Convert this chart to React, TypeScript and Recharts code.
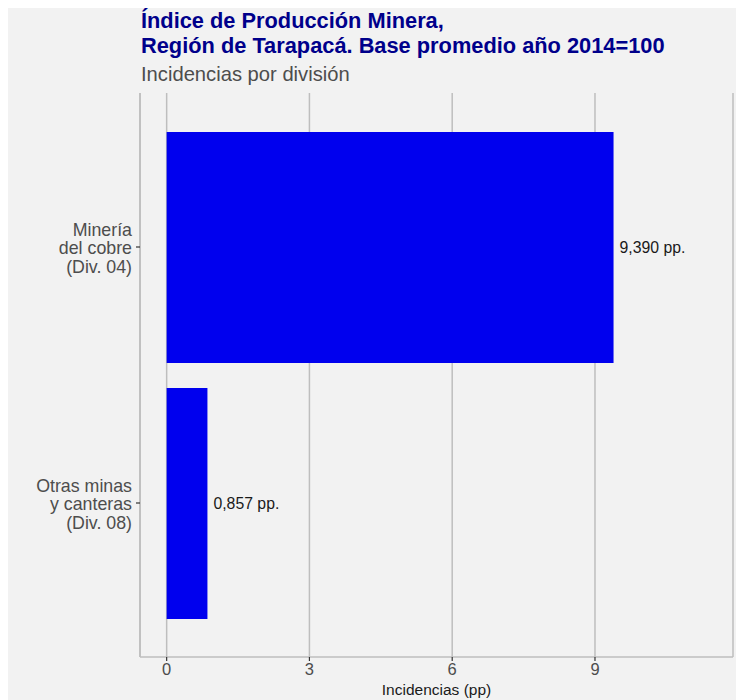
import React from 'react';
import { BarChart, Bar, XAxis, YAxis, CartesianGrid, LabelList } from 'recharts';

const categories = ['Minería\ndel cobre\n(Div. 04)', 'Otras minas\ny canteras\n(Div. 08)'];
const incidences = [9.39, 0.857];
const valueLabels = ['9,390 pp.', '0,857 pp.'];
const xTicks = [0, 3, 6, 9];

const data = categories.map((c, i) => ({ name: c, value: incidences[i], label: valueLabels[i] }));

const FONT = '"Liberation Sans", Arial, Helvetica, sans-serif';

const YTick = (props: any) => {
  const { x, y, payload } = props;
  const lines = String(payload.value).split('\n');
  const lh = 18.5;
  return (
    <text x={x} y={y} textAnchor="end" fill="#4D4D4D" fontSize={17.8} fontFamily={FONT}>
      {lines.map((l: string, i: number) => (
        <tspan key={i} x={x} y={y + 1 + (i - (lines.length - 1) / 2) * lh} dy="0.35em">
          {l}
        </tspan>
      ))}
    </text>
  );
};

const ValueLabel = (props: any) => {
  const { x, y, width, height, value } = props;
  return (
    <text
      x={x + width + 6}
      y={y + height / 2}
      dy="0.35em"
      textAnchor="start"
      fill="#1A1A1A"
      fontSize={15.8}
      fontFamily={FONT}
    >
      {value}
    </text>
  );
};

export default function App() {
  return (
    <div style={{ position: 'relative', width: 736, height: 692, background: '#F2F2F2', fontFamily: FONT }}>
      <div
        style={{
          position: 'absolute',
          left: 133,
          top: 0,
          color: '#00008B',
          fontWeight: 'bold',
          fontSize: 21.8,
          lineHeight: '25px',
          whiteSpace: 'nowrap',
        }}
      >
        Índice de Producción Minera,
        <br />
        Región de Tarapacá. Base promedio año 2014=100
      </div>
      <div
        style={{
          position: 'absolute',
          left: 133,
          top: 54,
          color: '#4D4D4D',
          fontSize: 20.2,
          lineHeight: '24px',
          whiteSpace: 'nowrap',
        }}
      >
        Incidencias por división
      </div>
      <BarChart
        width={736}
        height={692}
        data={data}
        layout="vertical"
        margin={{ top: 85, right: 11, bottom: 13, left: 0 }}
        style={{ position: 'absolute', left: 0, top: 0 }}
      >
        <CartesianGrid horizontal={false} stroke="#BEBEBE" strokeWidth={1.5} />
        <XAxis
          type="number"
          domain={[-0.56, 11.9]}
          ticks={xTicks}
          allowDataOverflow
          tickSize={4}
          tickMargin={2}
          axisLine={{ stroke: '#BEBEBE', strokeWidth: 1.5 }}
          tickLine={{ stroke: '#333333', strokeWidth: 1.2 }}
          tick={{ fill: '#4D4D4D', fontSize: 16.5, fontFamily: FONT }}
          height={30}
        />
        <YAxis
          type="category"
          dataKey="name"
          width={132}
          tickSize={4}
          tickMargin={4}
          padding={{ top: 26, bottom: 26 }}
          axisLine={{ stroke: '#BEBEBE', strokeWidth: 1.5 }}
          tickLine={{ stroke: '#333333', strokeWidth: 1.2 }}
          tick={<YTick />}
          interval={0}
        />
        <Bar dataKey="value" fill="#0000EE" barSize={231} isAnimationActive={false}>
          <LabelList dataKey="label" content={<ValueLabel />} />
        </Bar>
      </BarChart>
      <div
        style={{
          position: 'absolute',
          left: 132,
          width: 593,
          top: 673,
          textAlign: 'center',
          color: '#1A1A1A',
          fontSize: 15.5,
          lineHeight: '18px',
        }}
      >
        Incidencias (pp)
      </div>
    </div>
  );
}
